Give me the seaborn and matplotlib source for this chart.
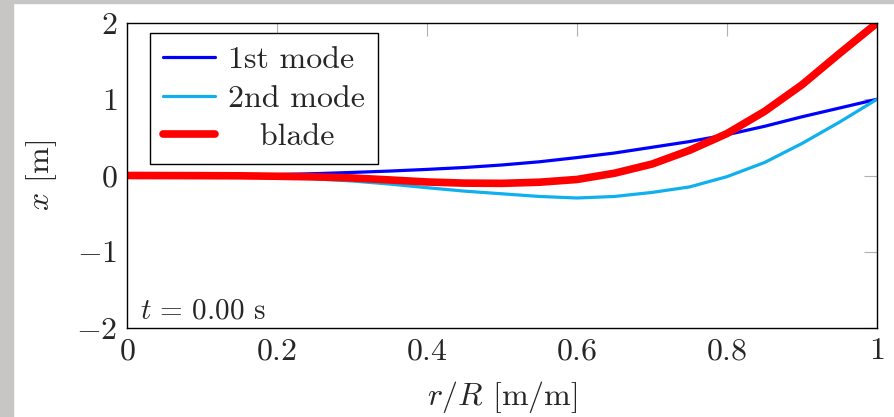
import numpy as np
import pandas as pd
import seaborn as sns
import matplotlib.pyplot as plt
from matplotlib.patches import Rectangle

# values
r = [0.0, 0.05, 0.1, 0.15, 0.2, 0.25, 0.3, 0.35, 0.4, 0.45, 0.5,
     0.55, 0.6, 0.65, 0.7, 0.75, 0.8, 0.85, 0.9, 0.95, 1.0]
mode1 = [0.0, 0.0, 0.002, 0.006, 0.012, 0.024, 0.040, 0.058, 0.080, 0.105, 0.138,
         0.180, 0.235, 0.295, 0.370, 0.445, 0.535, 0.645, 0.770, 0.885, 1.0]
mode2 = [0.0, -0.001, -0.004, -0.010, -0.022, -0.042, -0.072, -0.112, -0.160, -0.205, -0.240,
         -0.275, -0.295, -0.275, -0.222, -0.150, -0.015, 0.170, 0.420, 0.700, 1.0]
blade = [0.0, -0.001, -0.002, -0.004, -0.010, -0.018, -0.032, -0.058, -0.085, -0.100, -0.103,
         -0.088, -0.052, 0.030, 0.150, 0.330, 0.550, 0.840, 1.190, 1.600, 2.0]

x_ticks = [0, 0.2, 0.4, 0.6, 0.8, 1]
x_labels = ['$0$', '$0.2$', '$0.4$', '$0.6$', '$0.8$', '$1$']
y_ticks = [-2, -1, 0, 1, 2]
y_labels = ['$-2$', '$-1$', '$0$', '$1$', '$2$']

sns.set_style("white")
plt.rcParams['font.family'] = 'serif'
plt.rcParams['font.serif'] = ['cmr10']
plt.rcParams['mathtext.fontset'] = 'cm'
plt.rcParams['axes.unicode_minus'] = False

df = pd.DataFrame({"r": r, "1st mode": mode1, "2nd mode": mode2, "blade": blade})

fig = plt.figure(figsize=(8.95, 4.17), dpi=100)
ax = fig.add_axes([127/895, 89/417, 750/895, 305/417])

sns.lineplot(data=df, x="r", y="1st mode", ax=ax, color="#0000ff", lw=2.3, label="1st mode")
sns.lineplot(data=df, x="r", y="2nd mode", ax=ax, color="#10b0ee", lw=2.3, label="2nd mode")
sns.lineplot(data=df, x="r", y="blade", ax=ax, color="#ff0000", lw=5.5, label="   blade")

ax.set_xlim(0, 1)
ax.set_ylim(-2, 2)
ax.set_xticks(x_ticks)
ax.set_xticklabels(x_labels)
ax.set_yticks(y_ticks)
ax.set_yticklabels(y_labels)
ax.tick_params(direction='in', length=9.5, width=0.8, color='#b0b0b0',
               top=True, right=True, labelsize=23, pad=7)
for s in ax.spines.values():
    s.set_color('black')
    s.set_linewidth(1.0)

ax.set_xlabel('$r/R$ [m/m]', fontsize=23, labelpad=10)
ax.set_ylabel('$x$ [m]', fontsize=23, labelpad=12)

ax.text(0.018, 0.012, '$t\\,=\\,0.00$ s', transform=ax.transAxes, fontsize=21,
        ha='left', va='bottom')

leg = ax.legend(loc='upper left', bbox_to_anchor=(23/750, 1 - 10/305),
                fontsize=23, frameon=True, fancybox=False,
                edgecolor='black', framealpha=1, borderaxespad=0,
                handlelength=1.65, handletextpad=0.4, labelspacing=0.32,
                borderpad=0.4)
leg.get_frame().set_linewidth(1.0)

# grey page border like the screenshot
fig.add_artist(Rectangle((0, 0), 13/895, 1, transform=fig.transFigure,
                         color='#c8c6c5', zorder=-1))
fig.add_artist(Rectangle((0, 1 - 3/417), 1, 3/417, transform=fig.transFigure,
                         color='#c8c6c5', zorder=-1))

fig.savefig("out.png", dpi=100)
